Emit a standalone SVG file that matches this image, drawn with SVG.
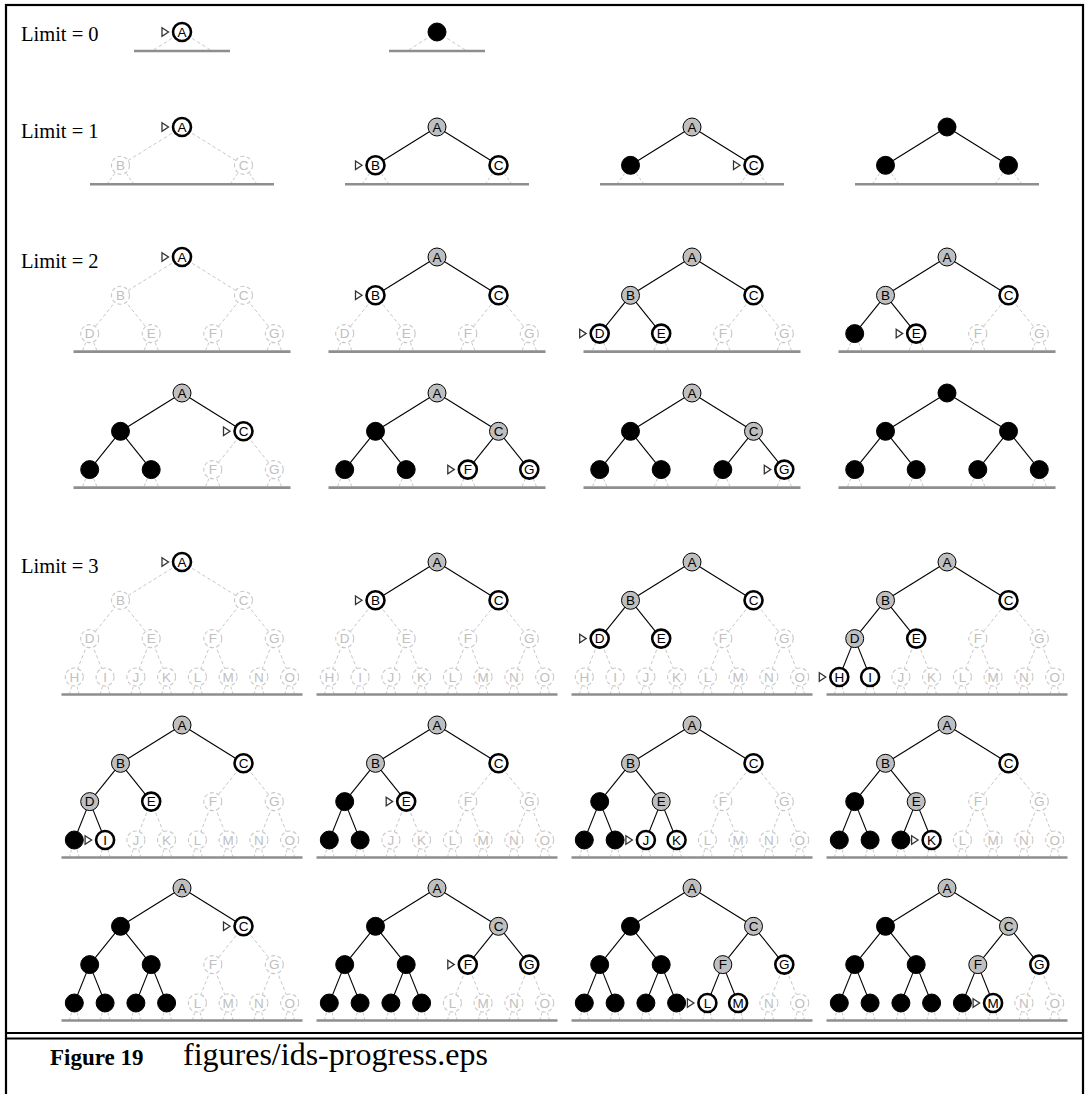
<svg xmlns="http://www.w3.org/2000/svg" width="1085" height="1094" viewBox="0 0 1085 1094" font-family="Liberation Sans, Arial, sans-serif" font-size="13" text-anchor="middle">
<defs>
<style>
.d{stroke:#c8c8c8;stroke-width:1;stroke-dasharray:3.5 2.5;fill:none}
.s{stroke:#000;stroke-width:1.1;fill:none}
.f{fill:#fff;stroke:#c8c8c8;stroke-width:1.1;stroke-dasharray:4 2.5;color:#c0c0c0}
.o{fill:#fff;stroke:#000;stroke-width:2.6;color:#000}
.g{fill:#bfbfbf;stroke:#000;stroke-width:1;color:#000}
.x{fill:#000;stroke:#000;stroke-width:1}
.lim{font-family:"Liberation Serif","Times New Roman",serif;font-size:20.5px;text-anchor:start;fill:#000}
.cap1{font-family:"Liberation Serif","Times New Roman",serif;font-size:23px;font-weight:bold;text-anchor:start;fill:#000}
.cap2{font-family:"Liberation Serif","Times New Roman",serif;font-size:32px;text-anchor:start;fill:#000}
</style>
<path id="m" d="M-20,-4.3L-13.5,0L-20,4.3Z" fill="#fff" stroke="#333" stroke-width="1.3" stroke-dasharray="none"/>
<g id="A" font-family="Liberation Sans, Arial, sans-serif" font-size="13.5" text-anchor="middle"><circle id="cA" r="9"/><text y="4.8" stroke="none" fill="currentColor">A</text></g>
<g id="B" font-family="Liberation Sans, Arial, sans-serif" font-size="13.5" text-anchor="middle"><circle id="cB" cx="-61.5" cy="38.3" r="9"/><text x="-61.5" y="43.1" stroke="none" fill="currentColor">B</text></g>
<g id="C" font-family="Liberation Sans, Arial, sans-serif" font-size="13.5" text-anchor="middle"><circle id="cC" cx="61.5" cy="38.3" r="9"/><text x="61.5" y="43.1" stroke="none" fill="currentColor">C</text></g>
<g id="D" font-family="Liberation Sans, Arial, sans-serif" font-size="13.5" text-anchor="middle"><circle id="cD" cx="-92.3" cy="76.6" r="9"/><text x="-92.3" y="81.4" stroke="none" fill="currentColor">D</text></g>
<g id="E" font-family="Liberation Sans, Arial, sans-serif" font-size="13.5" text-anchor="middle"><circle id="cE" cx="-30.8" cy="76.6" r="9"/><text x="-30.8" y="81.4" stroke="none" fill="currentColor">E</text></g>
<g id="F" font-family="Liberation Sans, Arial, sans-serif" font-size="13.5" text-anchor="middle"><circle id="cF" cx="30.8" cy="76.6" r="9"/><text x="30.8" y="81.4" stroke="none" fill="currentColor">F</text></g>
<g id="G" font-family="Liberation Sans, Arial, sans-serif" font-size="13.5" text-anchor="middle"><circle id="cG" cx="92.3" cy="76.6" r="9"/><text x="92.3" y="81.4" stroke="none" fill="currentColor">G</text></g>
<g id="H" font-family="Liberation Sans, Arial, sans-serif" font-size="13.5" text-anchor="middle"><circle id="cH" cx="-107.7" cy="115" r="9"/><text x="-107.7" y="119.8" stroke="none" fill="currentColor">H</text></g>
<g id="I" font-family="Liberation Sans, Arial, sans-serif" font-size="13.5" text-anchor="middle"><circle id="cI" cx="-76.9" cy="115" r="9"/><text x="-76.9" y="119.8" stroke="none" fill="currentColor">I</text></g>
<g id="J" font-family="Liberation Sans, Arial, sans-serif" font-size="13.5" text-anchor="middle"><circle id="cJ" cx="-46.1" cy="115" r="9"/><text x="-46.1" y="119.8" stroke="none" fill="currentColor">J</text></g>
<g id="K" font-family="Liberation Sans, Arial, sans-serif" font-size="13.5" text-anchor="middle"><circle id="cK" cx="-15.4" cy="115" r="9"/><text x="-15.4" y="119.8" stroke="none" fill="currentColor">K</text></g>
<g id="L" font-family="Liberation Sans, Arial, sans-serif" font-size="13.5" text-anchor="middle"><circle id="cL" cx="15.4" cy="115" r="9"/><text x="15.4" y="119.8" stroke="none" fill="currentColor">L</text></g>
<g id="M" font-family="Liberation Sans, Arial, sans-serif" font-size="13.5" text-anchor="middle"><circle id="cM" cx="46.1" cy="115" r="9"/><text x="46.1" y="119.8" stroke="none" fill="currentColor">M</text></g>
<g id="N" font-family="Liberation Sans, Arial, sans-serif" font-size="13.5" text-anchor="middle"><circle id="cN" cx="76.9" cy="115" r="9"/><text x="76.9" y="119.8" stroke="none" fill="currentColor">N</text></g>
<g id="O" font-family="Liberation Sans, Arial, sans-serif" font-size="13.5" text-anchor="middle"><circle id="cO" cx="107.7" cy="115" r="9"/><text x="107.7" y="119.8" stroke="none" fill="currentColor">O</text></g>
<line id="eB" x2="-61.5" y2="38.3"/>
<line id="eC" x2="61.5" y2="38.3"/>
<line id="eD" x1="-61.5" y1="38.3" x2="-92.3" y2="76.6"/>
<line id="eE" x1="-61.5" y1="38.3" x2="-30.8" y2="76.6"/>
<line id="eF" x1="61.5" y1="38.3" x2="30.8" y2="76.6"/>
<line id="eG" x1="61.5" y1="38.3" x2="92.3" y2="76.6"/>
<line id="eH" x1="-92.3" y1="76.6" x2="-107.7" y2="115"/>
<line id="eI" x1="-92.3" y1="76.6" x2="-76.9" y2="115"/>
<line id="eJ" x1="-30.8" y1="76.6" x2="-46.1" y2="115"/>
<line id="eK" x1="-30.8" y1="76.6" x2="-15.4" y2="115"/>
<line id="eL" x1="30.8" y1="76.6" x2="15.4" y2="115"/>
<line id="eM" x1="30.8" y1="76.6" x2="46.1" y2="115"/>
<line id="eN" x1="92.3" y1="76.6" x2="76.9" y2="115"/>
<line id="eO" x1="92.3" y1="76.6" x2="107.7" y2="115"/>
<g id="b0"><path d="M0,0L-30,19M0,0L30,19" fill="none" stroke="#c8c8c8" stroke-width="1" stroke-dasharray="3.5 2.5"/><path d="M-48,19H48" stroke="#8e8e8e" stroke-width="2.6"/></g>
<g id="b1"><path d="M-61.5,38.3l-13.5,19M-61.5,38.3l13.5,19M61.5,38.3l-13.5,19M61.5,38.3l13.5,19" fill="none" stroke="#c8c8c8" stroke-width="1" stroke-dasharray="3 2"/><path d="M-92,57.3H92" stroke="#8e8e8e" stroke-width="2.6"/></g>
<g id="b2"><path d="M-92.3,76.6l-7.7,18M-92.3,76.6l7.7,18M-30.8,76.6l-7.7,18M-30.8,76.6l7.7,18M30.8,76.6l-7.7,18M30.8,76.6l7.7,18M92.3,76.6l-7.7,18M92.3,76.6l7.7,18" fill="none" stroke="#c8c8c8" stroke-width="1" stroke-dasharray="3 2"/><path d="M-108.5,94.6H108.5" stroke="#8e8e8e" stroke-width="2.6"/></g>
<g id="b3"><path d="M-107.7,115l-5,17.5M-107.7,115l5,17.5M-76.9,115l-5,17.5M-76.9,115l5,17.5M-46.1,115l-5,17.5M-46.1,115l5,17.5M-15.4,115l-5,17.5M-15.4,115l5,17.5M15.4,115l-5,17.5M15.4,115l5,17.5M46.1,115l-5,17.5M46.1,115l5,17.5M76.9,115l-5,17.5M76.9,115l5,17.5M107.7,115l-5,17.5M107.7,115l5,17.5" fill="none" stroke="#c8c8c8" stroke-width="1" stroke-dasharray="3 2"/><path d="M-120.5,132.5H120.5" stroke="#8e8e8e" stroke-width="2.6"/></g>
</defs>
<rect width="1085" height="1094" fill="#fff"/>
<rect x="6" y="5" width="1077" height="1100" fill="none" stroke="#000" stroke-width="2.2"/>
<path d="M6,1033H1083M6,1038.5H1083" stroke="#000" stroke-width="2"/>
<text class="cap1" x="50" y="1065">Figure 19</text>
<text class="cap2" x="183" y="1065">figures/ids-progress.eps</text>
<text class="lim" x="21" y="41">Limit = 0</text>
<text class="lim" x="21" y="138">Limit = 1</text>
<text class="lim" x="21" y="268">Limit = 2</text>
<text class="lim" x="21" y="573">Limit = 3</text>

<!-- Limit 0 -->
<g id="z0a" transform="translate(182,32)"><use href="#b0"/>
<g id="z0a-A" class="o"><use href="#A"/><use href="#m"/></g></g>
<g id="z0b" transform="translate(437,32)"><use href="#b0"/>
<g id="z0b-A" class="x"><use href="#cA"/></g></g>

<!-- Limit 1 -->
<g id="z1a" transform="translate(182,127)">
<g id="z1a-e"><g class="d"><use href="#eB"/><use href="#eC"/></g></g><use href="#b1"/>
<g id="z1a-A" class="o"><use href="#A"/><use href="#m"/></g>
<g id="z1a-B" class="f"><use href="#B"/></g>
<g id="z1a-C" class="f"><use href="#C"/></g></g>
<g id="z1b" transform="translate(437,127)">
<g id="z1b-e"><g class="s"><use href="#eB"/><use href="#eC"/></g></g><use href="#b1"/>
<g id="z1b-A" class="g"><use href="#A"/></g>
<g id="z1b-B" class="o"><use href="#B"/><use href="#m" x="-61.5" y="38.3"/></g>
<g id="z1b-C" class="o"><use href="#C"/></g></g>
<g id="z1c" transform="translate(692,127)">
<g id="z1c-e"><g class="s"><use href="#eB"/><use href="#eC"/></g></g><use href="#b1"/>
<g id="z1c-A" class="g"><use href="#A"/></g>
<g id="z1c-B" class="x"><use href="#cB"/></g>
<g id="z1c-C" class="o"><use href="#C"/><use href="#m" x="61.5" y="38.3"/></g></g>
<g id="z1d" transform="translate(947,127)">
<g id="z1d-e"><g class="s"><use href="#eB"/><use href="#eC"/></g></g><use href="#b1"/>
<g id="z1d-A" class="x"><use href="#cA"/></g>
<g id="z1d-B" class="x"><use href="#cB"/></g>
<g id="z1d-C" class="x"><use href="#cC"/></g></g>

<!-- Limit 2 -->
<g id="z2a" transform="translate(182,257)">
<g id="z2a-e"><g class="d"><use href="#eB"/><use href="#eC"/><use href="#eD"/><use href="#eE"/><use href="#eF"/><use href="#eG"/></g></g><use href="#b2"/>
<g id="z2a-A" class="o"><use href="#A"/><use href="#m"/></g>
<g id="z2a-B" class="f"><use href="#B"/></g><g id="z2a-C" class="f"><use href="#C"/></g>
<g id="z2a-D" class="f"><use href="#D"/></g><g id="z2a-E" class="f"><use href="#E"/></g>
<g id="z2a-F" class="f"><use href="#F"/></g><g id="z2a-G" class="f"><use href="#G"/></g></g>
<g id="z2b" transform="translate(437,257)">
<g id="z2b-e"><g class="s"><use href="#eB"/><use href="#eC"/></g><g class="d"><use href="#eD"/><use href="#eE"/><use href="#eF"/><use href="#eG"/></g></g><use href="#b2"/>
<g id="z2b-A" class="g"><use href="#A"/></g>
<g id="z2b-B" class="o"><use href="#B"/><use href="#m" x="-61.5" y="38.3"/></g><g id="z2b-C" class="o"><use href="#C"/></g>
<g id="z2b-D" class="f"><use href="#D"/></g><g id="z2b-E" class="f"><use href="#E"/></g>
<g id="z2b-F" class="f"><use href="#F"/></g><g id="z2b-G" class="f"><use href="#G"/></g></g>
<g id="z2c" transform="translate(692,257)">
<g id="z2c-e"><g class="s"><use href="#eB"/><use href="#eC"/><use href="#eD"/><use href="#eE"/></g><g class="d"><use href="#eF"/><use href="#eG"/></g></g><use href="#b2"/>
<g id="z2c-A" class="g"><use href="#A"/></g>
<g id="z2c-B" class="g"><use href="#B"/></g><g id="z2c-C" class="o"><use href="#C"/></g>
<g id="z2c-D" class="o"><use href="#D"/><use href="#m" x="-92.3" y="76.6"/></g><g id="z2c-E" class="o"><use href="#E"/></g>
<g id="z2c-F" class="f"><use href="#F"/></g><g id="z2c-G" class="f"><use href="#G"/></g></g>
<g id="z2d" transform="translate(947,257)">
<g id="z2d-e"><g class="s"><use href="#eB"/><use href="#eC"/><use href="#eD"/><use href="#eE"/></g><g class="d"><use href="#eF"/><use href="#eG"/></g></g><use href="#b2"/>
<g id="z2d-A" class="g"><use href="#A"/></g>
<g id="z2d-B" class="g"><use href="#B"/></g><g id="z2d-C" class="o"><use href="#C"/></g>
<g id="z2d-D" class="x"><use href="#cD"/></g><g id="z2d-E" class="o"><use href="#E"/><use href="#m" x="-30.8" y="76.6"/></g>
<g id="z2d-F" class="f"><use href="#F"/></g><g id="z2d-G" class="f"><use href="#G"/></g></g>
<g id="z2e" transform="translate(182,393)">
<g id="z2e-e"><g class="s"><use href="#eB"/><use href="#eC"/><use href="#eD"/><use href="#eE"/></g><g class="d"><use href="#eF"/><use href="#eG"/></g></g><use href="#b2"/>
<g id="z2e-A" class="g"><use href="#A"/></g>
<g id="z2e-B" class="x"><use href="#cB"/></g><g id="z2e-C" class="o"><use href="#C"/><use href="#m" x="61.5" y="38.3"/></g>
<g id="z2e-D" class="x"><use href="#cD"/></g><g id="z2e-E" class="x"><use href="#cE"/></g>
<g id="z2e-F" class="f"><use href="#F"/></g><g id="z2e-G" class="f"><use href="#G"/></g></g>
<g id="z2f" transform="translate(437,393)">
<g id="z2f-e"><g class="s"><use href="#eB"/><use href="#eC"/><use href="#eD"/><use href="#eE"/><use href="#eF"/><use href="#eG"/></g></g><use href="#b2"/>
<g id="z2f-A" class="g"><use href="#A"/></g>
<g id="z2f-B" class="x"><use href="#cB"/></g><g id="z2f-C" class="g"><use href="#C"/></g>
<g id="z2f-D" class="x"><use href="#cD"/></g><g id="z2f-E" class="x"><use href="#cE"/></g>
<g id="z2f-F" class="o"><use href="#F"/><use href="#m" x="30.8" y="76.6"/></g><g id="z2f-G" class="o"><use href="#G"/></g></g>
<g id="z2g" transform="translate(692,393)">
<g id="z2g-e"><g class="s"><use href="#eB"/><use href="#eC"/><use href="#eD"/><use href="#eE"/><use href="#eF"/><use href="#eG"/></g></g><use href="#b2"/>
<g id="z2g-A" class="g"><use href="#A"/></g>
<g id="z2g-B" class="x"><use href="#cB"/></g><g id="z2g-C" class="g"><use href="#C"/></g>
<g id="z2g-D" class="x"><use href="#cD"/></g><g id="z2g-E" class="x"><use href="#cE"/></g>
<g id="z2g-F" class="x"><use href="#cF"/></g><g id="z2g-G" class="o"><use href="#G"/><use href="#m" x="92.3" y="76.6"/></g></g>
<g id="z2h" transform="translate(947,393)">
<g id="z2h-e"><g class="s"><use href="#eB"/><use href="#eC"/><use href="#eD"/><use href="#eE"/><use href="#eF"/><use href="#eG"/></g></g><use href="#b2"/>
<g id="z2h-A" class="x"><use href="#cA"/></g>
<g id="z2h-B" class="x"><use href="#cB"/></g><g id="z2h-C" class="x"><use href="#cC"/></g>
<g id="z2h-D" class="x"><use href="#cD"/></g><g id="z2h-E" class="x"><use href="#cE"/></g>
<g id="z2h-F" class="x"><use href="#cF"/></g><g id="z2h-G" class="x"><use href="#cG"/></g></g>

<!-- Limit 3 -->
<g id="z3a" transform="translate(182,562)">
<g id="z3a-e"><g class="d"><use href="#eB"/><use href="#eC"/><use href="#eD"/><use href="#eE"/><use href="#eF"/><use href="#eG"/><use href="#eH"/><use href="#eI"/><use href="#eJ"/><use href="#eK"/><use href="#eL"/><use href="#eM"/><use href="#eN"/><use href="#eO"/></g></g><use href="#b3"/>
<g id="z3a-A" class="o"><use href="#A"/><use href="#m"/></g>
<g id="z3a-B" class="f"><use href="#B"/></g><g id="z3a-C" class="f"><use href="#C"/></g>
<g id="z3a-D" class="f"><use href="#D"/></g><g id="z3a-E" class="f"><use href="#E"/></g><g id="z3a-F" class="f"><use href="#F"/></g><g id="z3a-G" class="f"><use href="#G"/></g>
<g id="z3a-H" class="f"><use href="#H"/></g><g id="z3a-I" class="f"><use href="#I"/></g><g id="z3a-J" class="f"><use href="#J"/></g><g id="z3a-K" class="f"><use href="#K"/></g>
<g id="z3a-L" class="f"><use href="#L"/></g><g id="z3a-M" class="f"><use href="#M"/></g><g id="z3a-N" class="f"><use href="#N"/></g><g id="z3a-O" class="f"><use href="#O"/></g></g>
<g id="z3b" transform="translate(437,562)">
<g id="z3b-e"><g class="s"><use href="#eB"/><use href="#eC"/></g><g class="d"><use href="#eD"/><use href="#eE"/><use href="#eF"/><use href="#eG"/><use href="#eH"/><use href="#eI"/><use href="#eJ"/><use href="#eK"/><use href="#eL"/><use href="#eM"/><use href="#eN"/><use href="#eO"/></g></g><use href="#b3"/>
<g id="z3b-A" class="g"><use href="#A"/></g>
<g id="z3b-B" class="o"><use href="#B"/><use href="#m" x="-61.5" y="38.3"/></g><g id="z3b-C" class="o"><use href="#C"/></g>
<g id="z3b-D" class="f"><use href="#D"/></g><g id="z3b-E" class="f"><use href="#E"/></g><g id="z3b-F" class="f"><use href="#F"/></g><g id="z3b-G" class="f"><use href="#G"/></g>
<g id="z3b-H" class="f"><use href="#H"/></g><g id="z3b-I" class="f"><use href="#I"/></g><g id="z3b-J" class="f"><use href="#J"/></g><g id="z3b-K" class="f"><use href="#K"/></g>
<g id="z3b-L" class="f"><use href="#L"/></g><g id="z3b-M" class="f"><use href="#M"/></g><g id="z3b-N" class="f"><use href="#N"/></g><g id="z3b-O" class="f"><use href="#O"/></g></g>
<g id="z3c" transform="translate(692,562)">
<g id="z3c-e"><g class="s"><use href="#eB"/><use href="#eC"/><use href="#eD"/><use href="#eE"/></g><g class="d"><use href="#eF"/><use href="#eG"/><use href="#eH"/><use href="#eI"/><use href="#eJ"/><use href="#eK"/><use href="#eL"/><use href="#eM"/><use href="#eN"/><use href="#eO"/></g></g><use href="#b3"/>
<g id="z3c-A" class="g"><use href="#A"/></g>
<g id="z3c-B" class="g"><use href="#B"/></g><g id="z3c-C" class="o"><use href="#C"/></g>
<g id="z3c-D" class="o"><use href="#D"/><use href="#m" x="-92.3" y="76.6"/></g><g id="z3c-E" class="o"><use href="#E"/></g><g id="z3c-F" class="f"><use href="#F"/></g><g id="z3c-G" class="f"><use href="#G"/></g>
<g id="z3c-H" class="f"><use href="#H"/></g><g id="z3c-I" class="f"><use href="#I"/></g><g id="z3c-J" class="f"><use href="#J"/></g><g id="z3c-K" class="f"><use href="#K"/></g>
<g id="z3c-L" class="f"><use href="#L"/></g><g id="z3c-M" class="f"><use href="#M"/></g><g id="z3c-N" class="f"><use href="#N"/></g><g id="z3c-O" class="f"><use href="#O"/></g></g>
<g id="z3d" transform="translate(947,562)">
<g id="z3d-e"><g class="s"><use href="#eB"/><use href="#eC"/><use href="#eD"/><use href="#eE"/><use href="#eH"/><use href="#eI"/></g><g class="d"><use href="#eF"/><use href="#eG"/><use href="#eJ"/><use href="#eK"/><use href="#eL"/><use href="#eM"/><use href="#eN"/><use href="#eO"/></g></g><use href="#b3"/>
<g id="z3d-A" class="g"><use href="#A"/></g>
<g id="z3d-B" class="g"><use href="#B"/></g><g id="z3d-C" class="o"><use href="#C"/></g>
<g id="z3d-D" class="g"><use href="#D"/></g><g id="z3d-E" class="o"><use href="#E"/></g><g id="z3d-F" class="f"><use href="#F"/></g><g id="z3d-G" class="f"><use href="#G"/></g>
<g id="z3d-H" class="o"><use href="#H"/><use href="#m" x="-107.7" y="115"/></g><g id="z3d-I" class="o"><use href="#I"/></g><g id="z3d-J" class="f"><use href="#J"/></g><g id="z3d-K" class="f"><use href="#K"/></g>
<g id="z3d-L" class="f"><use href="#L"/></g><g id="z3d-M" class="f"><use href="#M"/></g><g id="z3d-N" class="f"><use href="#N"/></g><g id="z3d-O" class="f"><use href="#O"/></g></g>
<g id="z3e" transform="translate(182,725)">
<g id="z3e-e"><g class="s"><use href="#eB"/><use href="#eC"/><use href="#eD"/><use href="#eE"/><use href="#eH"/><use href="#eI"/></g><g class="d"><use href="#eF"/><use href="#eG"/><use href="#eJ"/><use href="#eK"/><use href="#eL"/><use href="#eM"/><use href="#eN"/><use href="#eO"/></g></g><use href="#b3"/>
<g id="z3e-A" class="g"><use href="#A"/></g>
<g id="z3e-B" class="g"><use href="#B"/></g><g id="z3e-C" class="o"><use href="#C"/></g>
<g id="z3e-D" class="g"><use href="#D"/></g><g id="z3e-E" class="o"><use href="#E"/></g><g id="z3e-F" class="f"><use href="#F"/></g><g id="z3e-G" class="f"><use href="#G"/></g>
<g id="z3e-H" class="x"><use href="#cH"/></g><g id="z3e-I" class="o"><use href="#I"/><use href="#m" x="-76.9" y="115"/></g><g id="z3e-J" class="f"><use href="#J"/></g><g id="z3e-K" class="f"><use href="#K"/></g>
<g id="z3e-L" class="f"><use href="#L"/></g><g id="z3e-M" class="f"><use href="#M"/></g><g id="z3e-N" class="f"><use href="#N"/></g><g id="z3e-O" class="f"><use href="#O"/></g></g>
<g id="z3f" transform="translate(437,725)">
<g id="z3f-e"><g class="s"><use href="#eB"/><use href="#eC"/><use href="#eD"/><use href="#eE"/><use href="#eH"/><use href="#eI"/></g><g class="d"><use href="#eF"/><use href="#eG"/><use href="#eJ"/><use href="#eK"/><use href="#eL"/><use href="#eM"/><use href="#eN"/><use href="#eO"/></g></g><use href="#b3"/>
<g id="z3f-A" class="g"><use href="#A"/></g>
<g id="z3f-B" class="g"><use href="#B"/></g><g id="z3f-C" class="o"><use href="#C"/></g>
<g id="z3f-D" class="x"><use href="#cD"/></g><g id="z3f-E" class="o"><use href="#E"/><use href="#m" x="-30.8" y="76.6"/></g><g id="z3f-F" class="f"><use href="#F"/></g><g id="z3f-G" class="f"><use href="#G"/></g>
<g id="z3f-H" class="x"><use href="#cH"/></g><g id="z3f-I" class="x"><use href="#cI"/></g><g id="z3f-J" class="f"><use href="#J"/></g><g id="z3f-K" class="f"><use href="#K"/></g>
<g id="z3f-L" class="f"><use href="#L"/></g><g id="z3f-M" class="f"><use href="#M"/></g><g id="z3f-N" class="f"><use href="#N"/></g><g id="z3f-O" class="f"><use href="#O"/></g></g>
<g id="z3g" transform="translate(692,725)">
<g id="z3g-e"><g class="s"><use href="#eB"/><use href="#eC"/><use href="#eD"/><use href="#eE"/><use href="#eH"/><use href="#eI"/><use href="#eJ"/><use href="#eK"/></g><g class="d"><use href="#eF"/><use href="#eG"/><use href="#eL"/><use href="#eM"/><use href="#eN"/><use href="#eO"/></g></g><use href="#b3"/>
<g id="z3g-A" class="g"><use href="#A"/></g>
<g id="z3g-B" class="g"><use href="#B"/></g><g id="z3g-C" class="o"><use href="#C"/></g>
<g id="z3g-D" class="x"><use href="#cD"/></g><g id="z3g-E" class="g"><use href="#E"/></g><g id="z3g-F" class="f"><use href="#F"/></g><g id="z3g-G" class="f"><use href="#G"/></g>
<g id="z3g-H" class="x"><use href="#cH"/></g><g id="z3g-I" class="x"><use href="#cI"/></g><g id="z3g-J" class="o"><use href="#J"/><use href="#m" x="-46.1" y="115"/></g><g id="z3g-K" class="o"><use href="#K"/></g>
<g id="z3g-L" class="f"><use href="#L"/></g><g id="z3g-M" class="f"><use href="#M"/></g><g id="z3g-N" class="f"><use href="#N"/></g><g id="z3g-O" class="f"><use href="#O"/></g></g>
<g id="z3h" transform="translate(947,725)">
<g id="z3h-e"><g class="s"><use href="#eB"/><use href="#eC"/><use href="#eD"/><use href="#eE"/><use href="#eH"/><use href="#eI"/><use href="#eJ"/><use href="#eK"/></g><g class="d"><use href="#eF"/><use href="#eG"/><use href="#eL"/><use href="#eM"/><use href="#eN"/><use href="#eO"/></g></g><use href="#b3"/>
<g id="z3h-A" class="g"><use href="#A"/></g>
<g id="z3h-B" class="g"><use href="#B"/></g><g id="z3h-C" class="o"><use href="#C"/></g>
<g id="z3h-D" class="x"><use href="#cD"/></g><g id="z3h-E" class="g"><use href="#E"/></g><g id="z3h-F" class="f"><use href="#F"/></g><g id="z3h-G" class="f"><use href="#G"/></g>
<g id="z3h-H" class="x"><use href="#cH"/></g><g id="z3h-I" class="x"><use href="#cI"/></g><g id="z3h-J" class="x"><use href="#cJ"/></g><g id="z3h-K" class="o"><use href="#K"/><use href="#m" x="-15.4" y="115"/></g>
<g id="z3h-L" class="f"><use href="#L"/></g><g id="z3h-M" class="f"><use href="#M"/></g><g id="z3h-N" class="f"><use href="#N"/></g><g id="z3h-O" class="f"><use href="#O"/></g></g>
<g id="z3i" transform="translate(182,888)">
<g id="z3i-e"><g class="s"><use href="#eB"/><use href="#eC"/><use href="#eD"/><use href="#eE"/><use href="#eH"/><use href="#eI"/><use href="#eJ"/><use href="#eK"/></g><g class="d"><use href="#eF"/><use href="#eG"/><use href="#eL"/><use href="#eM"/><use href="#eN"/><use href="#eO"/></g></g><use href="#b3"/>
<g id="z3i-A" class="g"><use href="#A"/></g>
<g id="z3i-B" class="x"><use href="#cB"/></g><g id="z3i-C" class="o"><use href="#C"/><use href="#m" x="61.5" y="38.3"/></g>
<g id="z3i-D" class="x"><use href="#cD"/></g><g id="z3i-E" class="x"><use href="#cE"/></g><g id="z3i-F" class="f"><use href="#F"/></g><g id="z3i-G" class="f"><use href="#G"/></g>
<g id="z3i-H" class="x"><use href="#cH"/></g><g id="z3i-I" class="x"><use href="#cI"/></g><g id="z3i-J" class="x"><use href="#cJ"/></g><g id="z3i-K" class="x"><use href="#cK"/></g>
<g id="z3i-L" class="f"><use href="#L"/></g><g id="z3i-M" class="f"><use href="#M"/></g><g id="z3i-N" class="f"><use href="#N"/></g><g id="z3i-O" class="f"><use href="#O"/></g></g>
<g id="z3j" transform="translate(437,888)">
<g id="z3j-e"><g class="s"><use href="#eB"/><use href="#eC"/><use href="#eD"/><use href="#eE"/><use href="#eF"/><use href="#eG"/><use href="#eH"/><use href="#eI"/><use href="#eJ"/><use href="#eK"/></g><g class="d"><use href="#eL"/><use href="#eM"/><use href="#eN"/><use href="#eO"/></g></g><use href="#b3"/>
<g id="z3j-A" class="g"><use href="#A"/></g>
<g id="z3j-B" class="x"><use href="#cB"/></g><g id="z3j-C" class="g"><use href="#C"/></g>
<g id="z3j-D" class="x"><use href="#cD"/></g><g id="z3j-E" class="x"><use href="#cE"/></g><g id="z3j-F" class="o"><use href="#F"/><use href="#m" x="30.8" y="76.6"/></g><g id="z3j-G" class="o"><use href="#G"/></g>
<g id="z3j-H" class="x"><use href="#cH"/></g><g id="z3j-I" class="x"><use href="#cI"/></g><g id="z3j-J" class="x"><use href="#cJ"/></g><g id="z3j-K" class="x"><use href="#cK"/></g>
<g id="z3j-L" class="f"><use href="#L"/></g><g id="z3j-M" class="f"><use href="#M"/></g><g id="z3j-N" class="f"><use href="#N"/></g><g id="z3j-O" class="f"><use href="#O"/></g></g>
<g id="z3k" transform="translate(692,888)">
<g id="z3k-e"><g class="s"><use href="#eB"/><use href="#eC"/><use href="#eD"/><use href="#eE"/><use href="#eF"/><use href="#eG"/><use href="#eH"/><use href="#eI"/><use href="#eJ"/><use href="#eK"/><use href="#eL"/><use href="#eM"/></g><g class="d"><use href="#eN"/><use href="#eO"/></g></g><use href="#b3"/>
<g id="z3k-A" class="g"><use href="#A"/></g>
<g id="z3k-B" class="x"><use href="#cB"/></g><g id="z3k-C" class="g"><use href="#C"/></g>
<g id="z3k-D" class="x"><use href="#cD"/></g><g id="z3k-E" class="x"><use href="#cE"/></g><g id="z3k-F" class="g"><use href="#F"/></g><g id="z3k-G" class="o"><use href="#G"/></g>
<g id="z3k-H" class="x"><use href="#cH"/></g><g id="z3k-I" class="x"><use href="#cI"/></g><g id="z3k-J" class="x"><use href="#cJ"/></g><g id="z3k-K" class="x"><use href="#cK"/></g>
<g id="z3k-L" class="o"><use href="#L"/><use href="#m" x="15.4" y="115"/></g><g id="z3k-M" class="o"><use href="#M"/></g><g id="z3k-N" class="f"><use href="#N"/></g><g id="z3k-O" class="f"><use href="#O"/></g></g>
<g id="z3l" transform="translate(947,888)">
<g id="z3l-e"><g class="s"><use href="#eB"/><use href="#eC"/><use href="#eD"/><use href="#eE"/><use href="#eF"/><use href="#eG"/><use href="#eH"/><use href="#eI"/><use href="#eJ"/><use href="#eK"/><use href="#eL"/><use href="#eM"/></g><g class="d"><use href="#eN"/><use href="#eO"/></g></g><use href="#b3"/>
<g id="z3l-A" class="g"><use href="#A"/></g>
<g id="z3l-B" class="x"><use href="#cB"/></g><g id="z3l-C" class="g"><use href="#C"/></g>
<g id="z3l-D" class="x"><use href="#cD"/></g><g id="z3l-E" class="x"><use href="#cE"/></g><g id="z3l-F" class="g"><use href="#F"/></g><g id="z3l-G" class="o"><use href="#G"/></g>
<g id="z3l-H" class="x"><use href="#cH"/></g><g id="z3l-I" class="x"><use href="#cI"/></g><g id="z3l-J" class="x"><use href="#cJ"/></g><g id="z3l-K" class="x"><use href="#cK"/></g>
<g id="z3l-L" class="x"><use href="#cL"/></g><g id="z3l-M" class="o"><use href="#M"/><use href="#m" x="46.1" y="115"/></g><g id="z3l-N" class="f"><use href="#N"/></g><g id="z3l-O" class="f"><use href="#O"/></g></g>
</svg>
